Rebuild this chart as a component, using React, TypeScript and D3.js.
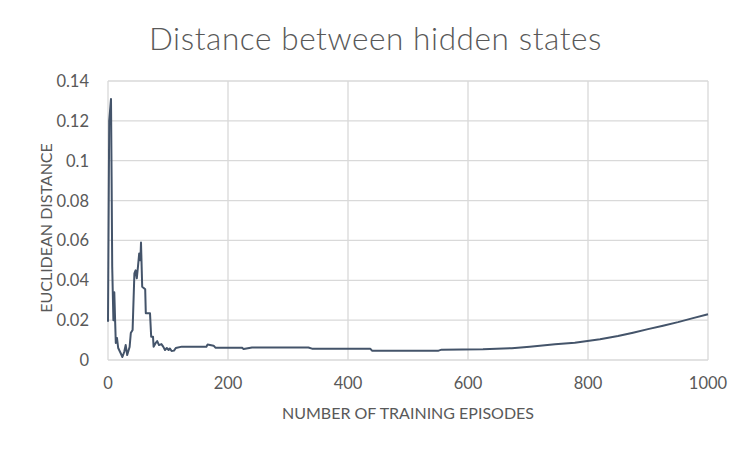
import { useMemo } from "react";
import { scaleLinear, line as d3Line, curveLinear } from "d3";

// episodes, with the matching euclidean distance
const EPISODES = [
  0, 2, 5, 6, 7, 9, 10.5, 12, 13, 15, 17, 21, 24, 27, 29.5, 32, 36, 38, 41, 44, 46, 48, 50, 52, 54, 55,
  57, 62, 63, 70, 72, 75, 76, 79, 82, 85, 89, 92, 95, 98, 101, 103, 106, 110, 113, 123, 164, 166, 176,
  179, 223, 226, 240, 334, 340, 437, 440, 551, 556, 625, 673, 703, 745, 778, 820, 850, 875, 900, 925,
  950, 975, 1000,
];
const DISTANCES = [
  0.0192, 0.12, 0.131, 0.092, 0.047, 0.02, 0.034, 0.0185, 0.0085, 0.011, 0.006, 0.0035, 0.0015, 0.004,
  0.0075, 0.0025, 0.0065, 0.0135, 0.015, 0.0435, 0.045, 0.041, 0.047, 0.0535, 0.05, 0.059, 0.0368,
  0.0355, 0.0235, 0.0235, 0.0117, 0.0117, 0.0067, 0.0083, 0.0095, 0.0075, 0.008, 0.0067, 0.005, 0.006,
  0.005, 0.0058, 0.0045, 0.0047, 0.006, 0.0067, 0.0067, 0.0078, 0.0072, 0.0062, 0.0062, 0.0055, 0.0063,
  0.0063, 0.0057, 0.0057, 0.0047, 0.0047, 0.0052, 0.0054, 0.0059, 0.0067, 0.0079, 0.0087, 0.0104,
  0.012, 0.0137, 0.0155, 0.0172, 0.019, 0.021, 0.023,
];

const X_TICKS = [0, 200, 400, 600, 800, 1000];
const Y_TICKS = [0, 0.02, 0.04, 0.06, 0.08, 0.1, 0.12, 0.14];

const TITLE = "Distance between hidden states";
const X_TITLE = "NUMBER OF TRAINING EPISODES";
const Y_TITLE = "EUCLIDEAN DISTANCE";

const WIDTH = 750;
const HEIGHT = 449;
const MARGIN = { top: 81, right: 42, bottom: 89, left: 108 };
const FONT = "Lato, 'Open Sans', sans-serif";
const TEXT = "#595959";
const GRID = "#d9d9d9";

export default function App() {
  const innerWidth = WIDTH - MARGIN.left - MARGIN.right;
  const innerHeight = HEIGHT - MARGIN.top - MARGIN.bottom;

  const x = useMemo(() => scaleLinear().domain([0, 1000]).range([0, innerWidth]), [innerWidth]);
  const y = useMemo(() => scaleLinear().domain([0, 0.14]).range([innerHeight, 0]), [innerHeight]);

  const path = useMemo(() => {
    const gen = d3Line<number>()
      .x((i) => x(EPISODES[i]))
      .y((i) => y(DISTANCES[i]))
      .curve(curveLinear);
    return gen(EPISODES.map((_, i) => i)) ?? "";
  }, [x, y]);

  return (
    <svg
      width={WIDTH}
      height={HEIGHT}
      viewBox={`0 0 ${WIDTH} ${HEIGHT}`}
      style={{ position: "absolute", left: 0, top: 0, background: "#fff" }}
      fontFamily={FONT}
    >
      <text x={375.5} y={50} textAnchor="middle" fontSize={31.5} fontWeight={300} fill={TEXT} letterSpacing={0.6}>
        {TITLE}
      </text>
      <g transform={`translate(${MARGIN.left},${MARGIN.top})`}>
        {/* gridlines */}
        {Y_TICKS.map((t) => (
          <line key={`gy${t}`} x1={0} x2={innerWidth} y1={y(t)} y2={y(t)} stroke={GRID} strokeWidth={1.3} />
        ))}
        {X_TICKS.map((t) => (
          <line key={`gx${t}`} x1={x(t)} x2={x(t)} y1={0} y2={innerHeight} stroke={GRID} strokeWidth={1.3} />
        ))}
        {/* tick labels */}
        {Y_TICKS.map((t) => (
          <text key={`ly${t}`} x={-19} y={y(t)} dy="0.36em" textAnchor="end" fontSize={16.5} fill={TEXT}>
            {String(t)}
          </text>
        ))}
        {X_TICKS.map((t) => (
          <text key={`lx${t}`} x={x(t)} y={innerHeight + 29} textAnchor="middle" fontSize={16.5} fill={TEXT}>
            {String(t)}
          </text>
        ))}
        <path d={path} fill="none" stroke="#44546a" strokeWidth={2} strokeLinejoin="round" />
      </g>
      <text x={408} y={419} textAnchor="middle" fontSize={16} fill={TEXT}>
        {X_TITLE}
      </text>
      <text
        transform={`translate(52,228) rotate(-90)`}
        textAnchor="middle"
        fontSize={16}
        fill={TEXT}
      >
        {Y_TITLE}
      </text>
    </svg>
  );
}
